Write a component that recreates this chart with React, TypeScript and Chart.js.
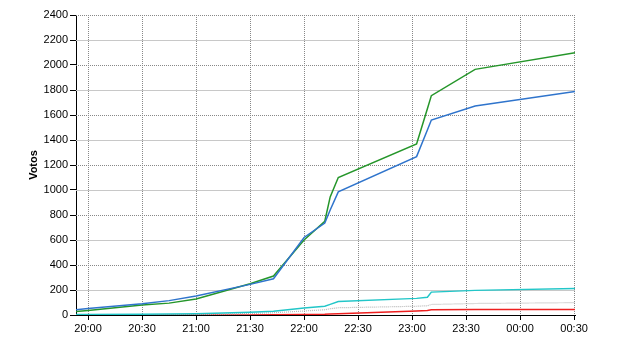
import React, { useEffect, useRef } from "react";
import { Chart, registerables } from "chart.js";

Chart.register(...registerables);

// minutes relative to 20:00
const times = [-6.7, 0, 30, 45, 60, 90, 103, 120, 131.5, 134.5, 139, 182.5, 188.5, 190.7, 215, 270.5];
const blueVals = [42, 52, 90, 115, 152, 245, 290, 620, 735, 840, 985, 1267, 1480, 1560, 1672, 1789];
const greenVals = [28, 36, 80, 95, 128, 250, 312, 600, 750, 945, 1100, 1368, 1650, 1755, 1965, 2098];
const cyanVals = [3, 4, 6, 8, 10, 22, 30, 56, 70, 85, 108, 133, 142, 183, 197, 213];
const grayVals = [0, 0, 1, 2, 3, 12, 18, 32, 42, 50, 58, 70, 74, 84, 92, 99];
const redVals = [0, 0, 0, 0, 0, 1, 2, 4, 6, 8, 10, 32, 36, 42, 44, 45];
const xTickValues = [0, 30, 60, 90, 120, 150, 180, 210, 240, 270];
const xTickLabels = ["20:00", "20:30", "21:00", "21:30", "22:00", "22:30", "23:00", "23:30", "00:00", "00:30"];
const yTickValues = [0, 200, 400, 600, 800, 1000, 1200, 1400, 1600, 1800, 2000, 2200, 2400];
const yTitle = "Votos";

const pts = (vals: number[]) => vals.map((v, i) => ({ x: times[i], y: v }));

const gridPlugin = {
  id: "customGrid",
  beforeDatasetsDraw(chart: any) {
    const { ctx, chartArea, scales } = chart;
    const x = scales.x;
    const y = scales.y;
    ctx.save();
    ctx.lineWidth = 1;
    yTickValues.forEach((v) => {
      if (v === 0) return;
      const py = Math.round(y.getPixelForValue(v)) + 0.5;
      ctx.beginPath();
      if (v % 400 === 0) {
        ctx.setLineDash([1, 1]);
        ctx.strokeStyle = "#888888";
      } else {
        ctx.setLineDash([]);
        ctx.strokeStyle = "#c8c8c8";
      }
      ctx.moveTo(chartArea.left, py);
      ctx.lineTo(chartArea.right, py);
      ctx.stroke();
    });
    ctx.setLineDash([1, 1]);
    ctx.strokeStyle = "#888888";
    xTickValues.forEach((v) => {
      const px = Math.round(x.getPixelForValue(v)) + 0.5;
      ctx.beginPath();
      ctx.moveTo(px, chartArea.top);
      ctx.lineTo(px, chartArea.bottom);
      ctx.stroke();
    });
    ctx.restore();
  },
};

export default function App() {
  const ref = useRef<HTMLCanvasElement>(null);
  useEffect(() => {
    document.body.style.margin = "0";
    const font = { family: "'Liberation Sans', Arial, sans-serif", size: 11 };
    const chart = new Chart(ref.current as HTMLCanvasElement, {
      type: "line",
      data: {
        datasets: [
          { data: pts(blueVals), borderColor: "#2f74cc", borderWidth: 1.5 },
          { data: pts(greenVals), borderColor: "#25962a", borderWidth: 1.5 },
          { data: pts(cyanVals), borderColor: "#22c6c8", borderWidth: 1.5 },
          { data: pts(grayVals), borderColor: "#b8b8b8", borderWidth: 1.2, borderDash: [1, 1] },
          { data: pts(redVals), borderColor: "#ee2020", borderWidth: 1.5 },
        ] as any,
      },
      options: {
        animation: false,
        responsive: false,
        elements: { point: { radius: 0 }, line: { tension: 0 } },
        layout: { padding: { top: 15, right: 65, left: 0, bottom: 0 } },
        plugins: { legend: { display: false }, tooltip: { enabled: false } },
        scales: {
          x: {
            type: "linear",
            min: -6.7,
            max: 270.5,
            afterBuildTicks: (s: any) => {
              s.ticks = xTickValues.map((v) => ({ value: v }));
            },
            afterFit: (s: any) => {
              s.height = 35;
            },
            ticks: {
              font,
              color: "#000",
              padding: 2,
              maxRotation: 0,
              autoSkip: false,
              callback: (v: any) => {
                const i = xTickValues.indexOf(Number(v));
                return i >= 0 ? xTickLabels[i] : "";
              },
            },
            grid: { drawOnChartArea: false, tickLength: 5, tickColor: "#000", tickWidth: 1 },
            border: { display: true, color: "#000", width: 1 },
          },
          y: {
            min: 0,
            max: 2400,
            afterBuildTicks: (s: any) => {
              s.ticks = yTickValues.map((v) => ({ value: v }));
            },
            afterFit: (s: any) => {
              s.width = 76;
            },
            ticks: {
              font,
              color: "#000",
              padding: 2,
              autoSkip: false,
              callback: (v: any) => String(v),
            },
            grid: { drawOnChartArea: false, tickLength: 6, tickColor: "#000", tickWidth: 1 },
            border: { display: true, color: "#000", width: 1 },
            title: {
              display: true,
              text: yTitle,
              color: "#000",
              font: { family: "'Liberation Sans', Arial, sans-serif", size: 11, weight: "bold" },
              padding: { top: 27, bottom: 0 },
            },
          },
        },
      },
      plugins: [gridPlugin],
    });
    return () => chart.destroy();
  }, []);
  return <canvas ref={ref} width={640} height={350} style={{ display: "block" }} />;
}
